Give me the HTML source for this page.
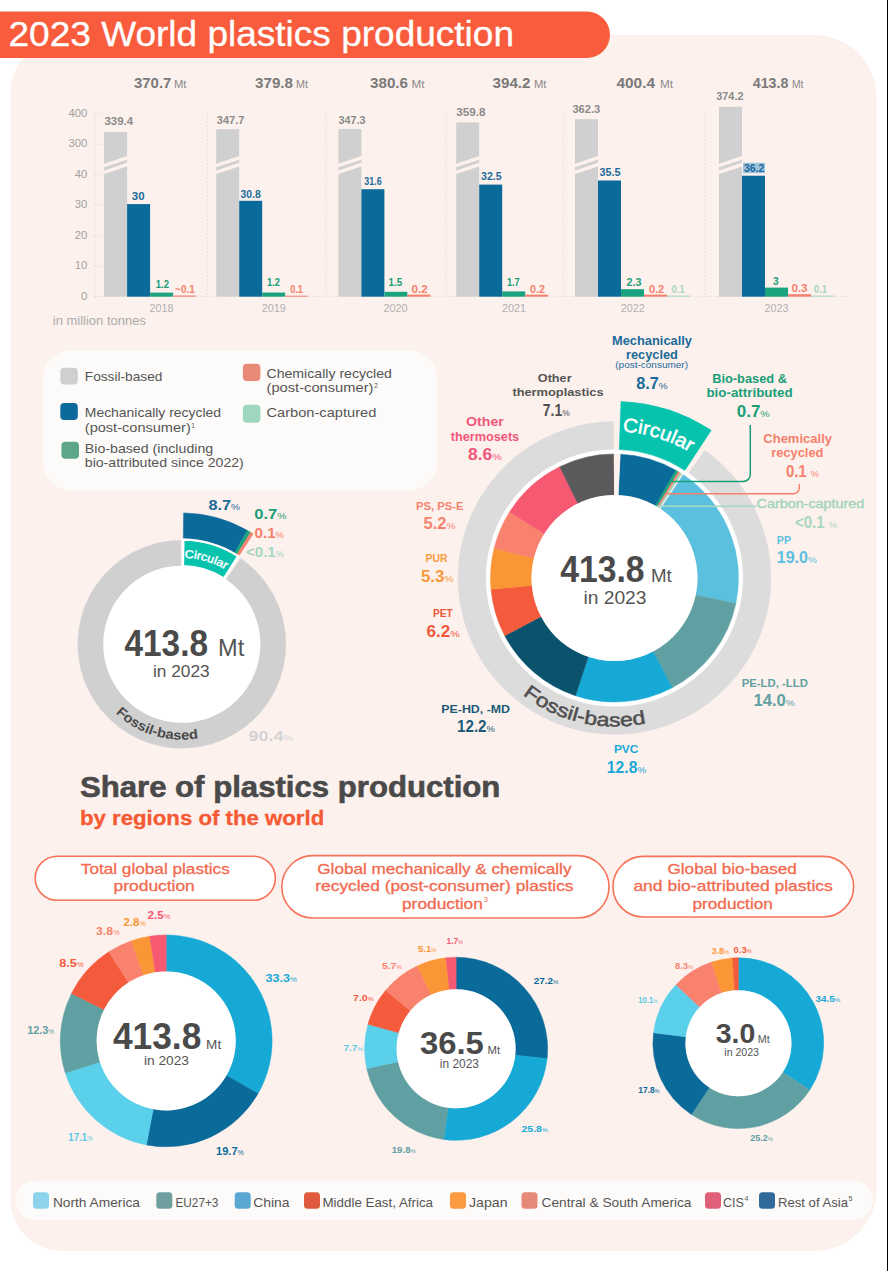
<!DOCTYPE html><html><head><meta charset="utf-8"><style>html,body{margin:0;padding:0;background:#fff;width:888px;height:1271px;overflow:hidden}svg{display:block}</style></head><body><svg width="888" height="1271" viewBox="0 0 888 1271" font-family='"Liberation Sans", sans-serif'>
<rect width="888" height="1271" fill="#ffffff"/>
<path d="M70.2,35 L814.6,35 A62,62 0 0 1 876.6,97 L876.6,1189 A62,62 0 0 1 814.6,1251 L62.2,1251 A52,52 0 0 1 10.2,1199 L10.2,95 A60,60 0 0 1 70.2,35 Z" fill="#FDF1ED"/>
<path d="M0,11.5 L586.7,11.5 A23.25,23.25 0 0 1 586.7,58 L0,58 Z" fill="#F85C3D"/>
<text x="8.5" y="46.3" font-size="34.5" fill="#ffffff" textLength="505.5" lengthAdjust="spacingAndGlyphs" stroke="#ffffff" stroke-width="0.3">2023 World plastics production</text>
<text x="87.3" y="116.5" font-size="11.3" fill="#A0A0A0" text-anchor="end">400</text>
<line x1="94.5" y1="113.5" x2="104" y2="113.5" stroke="#D8D8D8" stroke-width="0.8" stroke-dasharray="1.5,2"/>
<text x="87.3" y="147.4" font-size="11.3" fill="#A0A0A0" text-anchor="end">300</text>
<line x1="94.5" y1="144.4" x2="104" y2="144.4" stroke="#D8D8D8" stroke-width="0.8" stroke-dasharray="1.5,2"/>
<text x="87.3" y="177.8" font-size="11.3" fill="#A0A0A0" text-anchor="end">40</text>
<line x1="94.5" y1="174.8" x2="104" y2="174.8" stroke="#D8D8D8" stroke-width="0.8" stroke-dasharray="1.5,2"/>
<text x="87.3" y="208.0" font-size="11.3" fill="#A0A0A0" text-anchor="end">30</text>
<line x1="94.5" y1="205.0" x2="104" y2="205.0" stroke="#D8D8D8" stroke-width="0.8" stroke-dasharray="1.5,2"/>
<text x="87.3" y="238.8" font-size="11.3" fill="#A0A0A0" text-anchor="end">20</text>
<line x1="94.5" y1="235.8" x2="104" y2="235.8" stroke="#D8D8D8" stroke-width="0.8" stroke-dasharray="1.5,2"/>
<text x="87.3" y="269.0" font-size="11.3" fill="#A0A0A0" text-anchor="end">10</text>
<line x1="94.5" y1="266.0" x2="104" y2="266.0" stroke="#D8D8D8" stroke-width="0.8" stroke-dasharray="1.5,2"/>
<text x="87.3" y="299.6" font-size="11.3" fill="#A0A0A0" text-anchor="end">0</text>
<line x1="94.5" y1="296.6" x2="104" y2="296.6" stroke="#D8D8D8" stroke-width="0.8" stroke-dasharray="1.5,2"/>
<line x1="94.6" y1="111" x2="94.6" y2="296.7" stroke="#D8D8D8" stroke-width="0.8" stroke-dasharray="1.5,2"/>
<line x1="207.3" y1="111" x2="207.3" y2="296.7" stroke="#D8D8D8" stroke-width="0.8" stroke-dasharray="1.5,2"/>
<line x1="325.9" y1="111" x2="325.9" y2="296.7" stroke="#D8D8D8" stroke-width="0.8" stroke-dasharray="1.5,2"/>
<line x1="446" y1="111" x2="446" y2="296.7" stroke="#D8D8D8" stroke-width="0.8" stroke-dasharray="1.5,2"/>
<line x1="563.5" y1="111" x2="563.5" y2="296.7" stroke="#D8D8D8" stroke-width="0.8" stroke-dasharray="1.5,2"/>
<line x1="705" y1="111" x2="705" y2="296.7" stroke="#D8D8D8" stroke-width="0.8" stroke-dasharray="1.5,2"/>
<line x1="94.5" y1="296.4" x2="851" y2="296.4" stroke="#D8D8D8" stroke-width="0.8" stroke-dasharray="1.5,2"/>
<rect x="104.1" y="131.9" width="23" height="164.8" fill="#D0D0D0"/>
<path d="M103.6,163.9 L127.6,155.8 L127.6,159.4 L103.6,167.5 Z" fill="#FDF1ED"/>
<path d="M103.6,170.7 L127.6,162.6 L127.6,166.2 L103.6,174.3 Z" fill="#FDF1ED"/>
<rect x="127.1" y="204.1" width="23" height="92.6" fill="#0A6A9A"/>
<rect x="150.1" y="292.6" width="23" height="4.1" fill="#1AA37E"/>
<rect x="173.1" y="295.5" width="23" height="1.2" fill="#F5826E"/>
<rect x="216.2" y="129.2" width="23" height="167.5" fill="#D0D0D0"/>
<path d="M215.7,163.9 L239.7,155.8 L239.7,159.4 L215.7,167.5 Z" fill="#FDF1ED"/>
<path d="M215.7,170.7 L239.7,162.6 L239.7,166.2 L215.7,174.3 Z" fill="#FDF1ED"/>
<rect x="239.2" y="200.8" width="23" height="95.9" fill="#0A6A9A"/>
<rect x="262.2" y="292.5" width="23" height="4.2" fill="#1AA37E"/>
<rect x="285.2" y="295.7" width="23" height="1.0" fill="#F5826E"/>
<rect x="338.4" y="129.0" width="23" height="167.7" fill="#D0D0D0"/>
<path d="M337.9,163.9 L361.9,155.8 L361.9,159.4 L337.9,167.5 Z" fill="#FDF1ED"/>
<path d="M337.9,170.7 L361.9,162.6 L361.9,166.2 L337.9,174.3 Z" fill="#FDF1ED"/>
<rect x="361.4" y="189.2" width="23" height="107.5" fill="#0A6A9A"/>
<rect x="384.4" y="291.8" width="23" height="4.9" fill="#1AA37E"/>
<rect x="407.4" y="294.6" width="23" height="2.1" fill="#F5826E"/>
<rect x="456.2" y="122.4" width="23" height="174.3" fill="#D0D0D0"/>
<path d="M455.7,163.9 L479.7,155.8 L479.7,159.4 L455.7,167.5 Z" fill="#FDF1ED"/>
<path d="M455.7,170.7 L479.7,162.6 L479.7,166.2 L455.7,174.3 Z" fill="#FDF1ED"/>
<rect x="479.2" y="184.6" width="23" height="112.1" fill="#0A6A9A"/>
<rect x="502.2" y="291.4" width="23" height="5.3" fill="#1AA37E"/>
<rect x="525.2" y="294.6" width="23" height="2.1" fill="#F5826E"/>
<rect x="575.0" y="119.2" width="23" height="177.5" fill="#D0D0D0"/>
<path d="M574.5,163.9 L598.5,155.8 L598.5,159.4 L574.5,167.5 Z" fill="#FDF1ED"/>
<path d="M574.5,170.7 L598.5,162.6 L598.5,166.2 L574.5,174.3 Z" fill="#FDF1ED"/>
<rect x="598.0" y="180.5" width="23" height="116.2" fill="#0A6A9A"/>
<rect x="621.0" y="289.2" width="23" height="7.5" fill="#1AA37E"/>
<rect x="644.0" y="294.6" width="23" height="2.1" fill="#F5826E"/>
<rect x="667.0" y="295.6" width="23" height="1.1" fill="#A5D8C2"/>
<rect x="719.0" y="106.8" width="23" height="189.9" fill="#D0D0D0"/>
<path d="M718.5,163.9 L742.5,155.8 L742.5,159.4 L718.5,167.5 Z" fill="#FDF1ED"/>
<path d="M718.5,170.7 L742.5,162.6 L742.5,166.2 L718.5,174.3 Z" fill="#FDF1ED"/>
<rect x="742.0" y="175.7" width="23" height="121.0" fill="#0A6A9A"/>
<rect x="765.0" y="287.6" width="23" height="9.1" fill="#1AA37E"/>
<rect x="788.0" y="294.2" width="23" height="2.5" fill="#F5826E"/>
<rect x="811.0" y="295.6" width="23" height="1.1" fill="#A5D8C2"/>
<text x="134.0" y="88.0" font-size="15.5" fill="#7A7A7A" font-weight="bold" textLength="37.4" lengthAdjust="spacingAndGlyphs">370.7</text>
<text x="174.0" y="88.0" font-size="10.5" fill="#8A8A8A" textLength="12.4" lengthAdjust="spacingAndGlyphs">Mt</text>
<text x="255.0" y="88.0" font-size="15.5" fill="#7A7A7A" font-weight="bold" textLength="38.0" lengthAdjust="spacingAndGlyphs">379.8</text>
<text x="296.0" y="88.0" font-size="10.5" fill="#8A8A8A" textLength="12.0" lengthAdjust="spacingAndGlyphs">Mt</text>
<text x="370.0" y="88.0" font-size="15.5" fill="#7A7A7A" font-weight="bold" textLength="38.0" lengthAdjust="spacingAndGlyphs">380.6</text>
<text x="411.5" y="88.0" font-size="10.5" fill="#8A8A8A" textLength="13.0" lengthAdjust="spacingAndGlyphs">Mt</text>
<text x="492.5" y="88.0" font-size="15.5" fill="#7A7A7A" font-weight="bold" textLength="38.0" lengthAdjust="spacingAndGlyphs">394.2</text>
<text x="534.0" y="88.0" font-size="10.5" fill="#8A8A8A" textLength="12.5" lengthAdjust="spacingAndGlyphs">Mt</text>
<text x="616.5" y="88.0" font-size="15.5" fill="#7A7A7A" font-weight="bold" textLength="38.5" lengthAdjust="spacingAndGlyphs">400.4</text>
<text x="660.0" y="88.0" font-size="10.5" fill="#8A8A8A" textLength="13.0" lengthAdjust="spacingAndGlyphs">Mt</text>
<text x="752.7" y="88.0" font-size="15.5" fill="#7A7A7A" font-weight="bold" textLength="35.8" lengthAdjust="spacingAndGlyphs">413.8</text>
<text x="792.0" y="88.0" font-size="10.5" fill="#8A8A8A" textLength="11.5" lengthAdjust="spacingAndGlyphs">Mt</text>
<text x="104.5" y="124.8" font-size="10.5" fill="#8A8A8A" font-weight="bold" textLength="28.5" lengthAdjust="spacingAndGlyphs">339.4</text>
<text x="216.8" y="123.6" font-size="10.5" fill="#8A8A8A" font-weight="bold" textLength="27.5" lengthAdjust="spacingAndGlyphs">347.7</text>
<text x="338.4" y="123.8" font-size="10.5" fill="#8A8A8A" font-weight="bold" textLength="27.0" lengthAdjust="spacingAndGlyphs">347.3</text>
<text x="456.2" y="116.2" font-size="10.5" fill="#8A8A8A" font-weight="bold" textLength="29.2" lengthAdjust="spacingAndGlyphs">359.8</text>
<text x="572.4" y="113.0" font-size="10.5" fill="#8A8A8A" font-weight="bold" textLength="27.9" lengthAdjust="spacingAndGlyphs">362.3</text>
<text x="716.2" y="99.5" font-size="10.5" fill="#8A8A8A" font-weight="bold" textLength="27.3" lengthAdjust="spacingAndGlyphs">374.2</text>
<rect x="743" y="162.8" width="22" height="10.4" fill="#9CC3DD"/>
<text x="131.8" y="200.0" font-size="10.3" fill="#1A6A99" font-weight="bold" textLength="12.8" lengthAdjust="spacingAndGlyphs">30</text>
<text x="240.5" y="197.6" font-size="10.3" fill="#1A6A99" font-weight="bold" textLength="20.3" lengthAdjust="spacingAndGlyphs">30.8</text>
<text x="364.3" y="185.1" font-size="10.3" fill="#1A6A99" font-weight="bold" textLength="17.3" lengthAdjust="spacingAndGlyphs">31.6</text>
<text x="481.0" y="180.0" font-size="10.3" fill="#1A6A99" font-weight="bold" textLength="20.6" lengthAdjust="spacingAndGlyphs">32.5</text>
<text x="599.5" y="175.7" font-size="10.3" fill="#1A6A99" font-weight="bold" textLength="21.0" lengthAdjust="spacingAndGlyphs">35.5</text>
<text x="744.0" y="171.6" font-size="10.3" fill="#1A6A99" font-weight="bold" textLength="20.3" lengthAdjust="spacingAndGlyphs">36.2</text>
<text x="155.7" y="287.6" font-size="10.3" fill="#1A9E78" font-weight="bold" textLength="13.3" lengthAdjust="spacingAndGlyphs">1.2</text>
<text x="267.0" y="285.6" font-size="10.3" fill="#1A9E78" font-weight="bold" textLength="13.0" lengthAdjust="spacingAndGlyphs">1.2</text>
<text x="388.6" y="285.6" font-size="10.3" fill="#1A9E78" font-weight="bold" textLength="13.7" lengthAdjust="spacingAndGlyphs">1.5</text>
<text x="507.0" y="286.0" font-size="10.3" fill="#1A9E78" font-weight="bold" textLength="12.7" lengthAdjust="spacingAndGlyphs">1.7</text>
<text x="626.5" y="286.0" font-size="10.3" fill="#1A9E78" font-weight="bold" textLength="14.9" lengthAdjust="spacingAndGlyphs">2.3</text>
<text x="773.0" y="285.1" font-size="10.3" fill="#1A9E78" font-weight="bold" textLength="5.6" lengthAdjust="spacingAndGlyphs">3</text>
<text x="175.0" y="292.6" font-size="10.3" fill="#F5806C" font-weight="bold" textLength="19.9" lengthAdjust="spacingAndGlyphs">~0.1</text>
<text x="290.2" y="292.5" font-size="10.3" fill="#F5806C" font-weight="bold" textLength="12.8" lengthAdjust="spacingAndGlyphs">0.1</text>
<text x="411.5" y="292.9" font-size="10.3" fill="#F5806C" font-weight="bold" textLength="16.1" lengthAdjust="spacingAndGlyphs">0.2</text>
<text x="530.0" y="293.2" font-size="10.3" fill="#F5806C" font-weight="bold" textLength="14.9" lengthAdjust="spacingAndGlyphs">0.2</text>
<text x="648.9" y="293.2" font-size="10.3" fill="#F5806C" font-weight="bold" textLength="15.4" lengthAdjust="spacingAndGlyphs">0.2</text>
<text x="791.4" y="292.4" font-size="10.3" fill="#F5806C" font-weight="bold" textLength="16.2" lengthAdjust="spacingAndGlyphs">0.3</text>
<text x="671.6" y="293.0" font-size="10.3" fill="#A8D6C0" font-weight="bold" textLength="13.0" lengthAdjust="spacingAndGlyphs">0.1</text>
<text x="813.8" y="293.0" font-size="10.3" fill="#A8D6C0" font-weight="bold" textLength="13.2" lengthAdjust="spacingAndGlyphs">0.1</text>
<text x="161.6" y="311.8" font-size="10.6" fill="#B0B0B0" text-anchor="middle" textLength="24.0" lengthAdjust="spacingAndGlyphs">2018</text>
<text x="273.7" y="311.8" font-size="10.6" fill="#B0B0B0" text-anchor="middle" textLength="24.0" lengthAdjust="spacingAndGlyphs">2019</text>
<text x="395.5" y="311.8" font-size="10.6" fill="#B0B0B0" text-anchor="middle" textLength="24.0" lengthAdjust="spacingAndGlyphs">2020</text>
<text x="513.9" y="311.8" font-size="10.6" fill="#B0B0B0" text-anchor="middle" textLength="24.0" lengthAdjust="spacingAndGlyphs">2021</text>
<text x="632.8" y="311.8" font-size="10.6" fill="#B0B0B0" text-anchor="middle" textLength="24.0" lengthAdjust="spacingAndGlyphs">2022</text>
<text x="776.5" y="311.8" font-size="10.6" fill="#B0B0B0" text-anchor="middle" textLength="24.0" lengthAdjust="spacingAndGlyphs">2023</text>
<text x="52.8" y="324.5" font-size="12" fill="#ABABAB" textLength="93.1" lengthAdjust="spacingAndGlyphs">in million tonnes</text>
<rect x="43" y="350.4" width="394.3" height="140" rx="28" fill="#FDFBF9"/>
<rect x="60.3" y="367.7" width="17.5" height="16.7" rx="4" fill="#CFCFCF"/>
<text x="84.8" y="380.8" font-size="13" fill="#555555" textLength="77.6" lengthAdjust="spacingAndGlyphs">Fossil-based</text>
<rect x="60.3" y="403" width="17.5" height="17" rx="4" fill="#0B6A9B"/>
<text x="84.8" y="416.6" font-size="13" fill="#555555" textLength="136.2" lengthAdjust="spacingAndGlyphs">Mechanically recycled</text>
<text x="84.8" y="431.6" font-size="13" fill="#555555" textLength="106.0" lengthAdjust="spacingAndGlyphs">(post-consumer)</text>
<text x="191.3" y="428.0" font-size="6.5" fill="#555555">1</text>
<rect x="61.4" y="441.7" width="17.6" height="17" rx="4" fill="#5EA58A"/>
<text x="84.8" y="452.6" font-size="13" fill="#555555" textLength="128.4" lengthAdjust="spacingAndGlyphs">Bio-based (including</text>
<text x="84.8" y="467.1" font-size="13" fill="#555555" textLength="159.0" lengthAdjust="spacingAndGlyphs">bio-attributed since 2022)</text>
<rect x="242.9" y="363.7" width="17.5" height="17.3" rx="4" fill="#E98A78"/>
<text x="266.5" y="377.6" font-size="13" fill="#555555" textLength="125.4" lengthAdjust="spacingAndGlyphs">Chemically recycled</text>
<text x="266.5" y="391.9" font-size="13" fill="#555555" textLength="107.0" lengthAdjust="spacingAndGlyphs">(post-consumer)</text>
<text x="374.3" y="388.3" font-size="6.5" fill="#555555">2</text>
<rect x="242.9" y="404.8" width="17.5" height="18" rx="4" fill="#9FD6BF"/>
<text x="266.5" y="416.6" font-size="13" fill="#555555" textLength="109.8" lengthAdjust="spacingAndGlyphs">Carbon-captured</text>
<path d="M240.71,558.49 A104,104 0 1 1 180.53,540.21 L180.84,565.71 A78.5,78.5 0 1 0 226.26,579.51 Z" fill="#D0D0D0" stroke="#D0D0D0" stroke-width="0.5"/>
<path d="M183.63,512.91 A131.3,131.3 0 0 1 247.45,530.49 L234.65,552.66 A105.7,105.7 0 0 0 183.28,538.51 Z" fill="#0A6A9A" stroke="#0A6A9A" stroke-width="0.5"/>
<path d="M247.45,530.49 A131.3,131.3 0 0 1 250.60,532.37 L237.19,554.17 A105.7,105.7 0 0 0 234.65,552.66 Z" fill="#1AA37E" stroke="#1AA37E" stroke-width="0.5"/>
<path d="M250.60,532.37 A131.3,131.3 0 0 1 253.12,533.96 L239.21,555.45 A105.7,105.7 0 0 0 237.19,554.17 Z" fill="#F5826E" stroke="#F5826E" stroke-width="0.5"/>
<path d="M183.44,539.61 A104.6,104.6 0 0 1 238.16,556.08 L223.93,578.32 A78.2,78.2 0 0 0 183.03,566.01 Z" fill="#06C3AD" stroke="#ffffff" stroke-width="2.2"/>
<circle cx="181.8" cy="644.2" r="78.5" fill="#ffffff"/>
<text x="0" y="0" text-anchor="middle" font-size="11.5" fill="#ffffff" stroke="#ffffff" stroke-width="0.4" transform="translate(188.95,558.00) rotate(4.74) scale(1.085,1)">C</text>
<text x="0" y="0" text-anchor="middle" font-size="11.5" fill="#ffffff" stroke="#ffffff" stroke-width="0.4" transform="translate(194.81,558.68) rotate(8.65) scale(1.085,1)">i</text>
<text x="0" y="0" text-anchor="middle" font-size="11.5" fill="#ffffff" stroke="#ffffff" stroke-width="0.4" transform="translate(198.22,559.27) rotate(10.94) scale(1.085,1)">r</text>
<text x="0" y="0" text-anchor="middle" font-size="11.5" fill="#ffffff" stroke="#ffffff" stroke-width="0.4" transform="translate(203.29,560.41) rotate(14.39) scale(1.085,1)">c</text>
<text x="0" y="0" text-anchor="middle" font-size="11.5" fill="#ffffff" stroke="#ffffff" stroke-width="0.4" transform="translate(209.61,562.29) rotate(18.75) scale(1.085,1)">u</text>
<text x="0" y="0" text-anchor="middle" font-size="11.5" fill="#ffffff" stroke="#ffffff" stroke-width="0.4" transform="translate(214.16,563.98) rotate(21.97) scale(1.085,1)">l</text>
<text x="0" y="0" text-anchor="middle" font-size="11.5" fill="#ffffff" stroke="#ffffff" stroke-width="0.4" transform="translate(218.61,565.93) rotate(25.19) scale(1.085,1)">a</text>
<text x="0" y="0" text-anchor="middle" font-size="11.5" fill="#ffffff" stroke="#ffffff" stroke-width="0.4" transform="translate(223.56,568.45) rotate(28.86) scale(1.085,1)">r</text>
<text x="0" y="0" text-anchor="middle" font-size="13.5" fill="#4A4A4A" font-weight="bold" transform="translate(118.77,715.95) rotate(41.30) scale(1.091,1)">F</text>
<text x="0" y="0" text-anchor="middle" font-size="13.5" fill="#4A4A4A" font-weight="bold" transform="translate(125.80,721.55) rotate(35.90) scale(1.091,1)">o</text>
<text x="0" y="0" text-anchor="middle" font-size="13.5" fill="#4A4A4A" font-weight="bold" transform="translate(132.97,726.27) rotate(30.75) scale(1.091,1)">s</text>
<text x="0" y="0" text-anchor="middle" font-size="13.5" fill="#4A4A4A" font-weight="bold" transform="translate(140.18,730.15) rotate(25.84) scale(1.091,1)">s</text>
<text x="0" y="0" text-anchor="middle" font-size="13.5" fill="#4A4A4A" font-weight="bold" transform="translate(145.79,732.65) rotate(22.15) scale(1.091,1)">i</text>
<text x="0" y="0" text-anchor="middle" font-size="13.5" fill="#4A4A4A" font-weight="bold" transform="translate(149.61,734.11) rotate(19.70) scale(1.091,1)">l</text>
<text x="0" y="0" text-anchor="middle" font-size="13.5" fill="#4A4A4A" font-weight="bold" transform="translate(153.87,735.53) rotate(17.00) scale(1.091,1)">-</text>
<text x="0" y="0" text-anchor="middle" font-size="13.5" fill="#4A4A4A" font-weight="bold" transform="translate(160.59,737.31) rotate(12.83) scale(1.091,1)">b</text>
<text x="0" y="0" text-anchor="middle" font-size="13.5" fill="#4A4A4A" font-weight="bold" transform="translate(169.04,738.84) rotate(7.68) scale(1.091,1)">a</text>
<text x="0" y="0" text-anchor="middle" font-size="13.5" fill="#4A4A4A" font-weight="bold" transform="translate(177.19,739.59) rotate(2.77) scale(1.091,1)">s</text>
<text x="0" y="0" text-anchor="middle" font-size="13.5" fill="#4A4A4A" font-weight="bold" transform="translate(185.38,739.63) rotate(-2.15) scale(1.091,1)">e</text>
<text x="0" y="0" text-anchor="middle" font-size="13.5" fill="#4A4A4A" font-weight="bold" transform="translate(193.93,738.93) rotate(-7.30) scale(1.091,1)">d</text>
<text x="124.4" y="656.0" font-size="36" fill="#4A4A4A" font-weight="bold" textLength="83.6" lengthAdjust="spacingAndGlyphs">413.8</text>
<text x="218.1" y="656.0" font-size="23.5" fill="#555555" textLength="26.2" lengthAdjust="spacingAndGlyphs">Mt</text>
<text x="153.0" y="676.7" font-size="17" fill="#555555" textLength="56.7" lengthAdjust="spacingAndGlyphs">in 2023</text>
<text x="208.4" y="509.8" font-size="15" font-weight="bold" fill="#1A6A99" textLength="31.6" lengthAdjust="spacingAndGlyphs">8.7<tspan font-size="9.3" font-weight="normal">%</tspan></text>
<text x="254.2" y="519.3" font-size="15" font-weight="bold" fill="#1A9E78" textLength="32.2" lengthAdjust="spacingAndGlyphs">0.7<tspan font-size="9.3" font-weight="normal">%</tspan></text>
<text x="254.6" y="538.0" font-size="15" font-weight="bold" fill="#F5806C" textLength="29.3" lengthAdjust="spacingAndGlyphs">0.1<tspan font-size="9.3" font-weight="normal">%</tspan></text>
<text x="246.1" y="557.3" font-size="15" font-weight="bold" fill="#A8D6C0" textLength="37.8" lengthAdjust="spacingAndGlyphs">&lt;0.1<tspan font-size="9.3" font-weight="normal">%</tspan></text>
<text x="248.6" y="741.4" font-size="15" font-weight="bold" fill="#D3D3D3" textLength="44.6" lengthAdjust="spacingAndGlyphs">90.4<tspan font-size="9.3" font-weight="normal">%</tspan></text>
<path d="M704.88,450.36 A156.4,156.4 0 1 1 613.41,421.60 L613.61,450.00 A128,128 0 1 0 688.47,473.53 Z" fill="#DCDCDC" stroke="#DCDCDC" stroke-width="0.5"/>
<path d="M614.50,449.70 A128.3,128.3 0 1 1 614.48,449.70 L614.49,496.00 A82,82 0 1 0 614.50,496.00 Z" fill="#ffffff" stroke="#ffffff" stroke-width="0.5"/>
<path d="M620.56,454.15 A124,124 0 0 1 675.75,470.18 L655.50,505.83 A83,83 0 0 0 618.55,495.10 Z" fill="#0A6A9A" stroke="#0A6A9A" stroke-width="0.5"/>
<path d="M675.75,470.18 A124,124 0 0 1 678.36,471.71 L657.25,506.86 A83,83 0 0 0 655.50,505.83 Z" fill="#1AA37E" stroke="#1AA37E" stroke-width="0.5"/>
<path d="M678.36,471.71 A124,124 0 0 1 680.21,472.84 L658.48,507.61 A83,83 0 0 0 657.25,506.86 Z" fill="#F5826E" stroke="#F5826E" stroke-width="0.5"/>
<path d="M680.21,472.84 A124,124 0 0 1 682.04,474.00 L659.71,508.39 A83,83 0 0 0 658.48,507.61 Z" fill="#A5D8C2" stroke="#A5D8C2" stroke-width="0.5"/>
<path d="M682.94,474.60 A124,124 0 0 1 735.84,603.57 L695.72,595.11 A83,83 0 0 0 660.31,508.79 Z" fill="#5BC0DE" stroke="#5BC0DE" stroke-width="0.5"/>
<path d="M735.84,603.57 A124,124 0 0 1 672.14,687.79 L653.08,651.49 A83,83 0 0 0 695.72,595.11 Z" fill="#61A0A2" stroke="#61A0A2" stroke-width="0.5"/>
<path d="M672.14,687.79 A124,124 0 0 1 575.36,695.66 L588.30,656.76 A83,83 0 0 0 653.08,651.49 Z" fill="#16A9D6" stroke="#16A9D6" stroke-width="0.5"/>
<path d="M575.36,695.66 A124,124 0 0 1 504.71,635.64 L541.01,616.58 A83,83 0 0 0 588.30,656.76 Z" fill="#0B526C" stroke="#0B526C" stroke-width="0.5"/>
<path d="M504.71,635.64 A124,124 0 0 1 491.01,589.24 L531.84,585.52 A83,83 0 0 0 541.01,616.58 Z" fill="#F45A3C" stroke="#F45A3C" stroke-width="0.5"/>
<path d="M491.01,589.24 A124,124 0 0 1 494.13,548.21 L533.93,558.06 A83,83 0 0 0 531.84,585.52 Z" fill="#FB9637" stroke="#FB9637" stroke-width="0.5"/>
<path d="M494.13,548.21 A124,124 0 0 1 509.57,511.92 L544.27,533.77 A83,83 0 0 0 533.93,558.06 Z" fill="#F9826E" stroke="#F9826E" stroke-width="0.5"/>
<path d="M509.57,511.92 A124,124 0 0 1 559.75,466.74 L577.86,503.53 A83,83 0 0 0 544.27,533.77 Z" fill="#F55A72" stroke="#F55A72" stroke-width="0.5"/>
<path d="M559.75,466.74 A124,124 0 0 1 613.85,454.00 L614.07,495.00 A83,83 0 0 0 577.86,503.53 Z" fill="#5A5A5A" stroke="#5A5A5A" stroke-width="0.5"/>
<path d="M613.85,453.80 A124.2,124.2 0 0 1 620.35,453.94 L618.36,496.09 A82,82 0 0 0 614.07,496.00 Z" fill="#FDF1ED" />
<path d="M682.14,473.84 A124.2,124.2 0 0 1 683.23,474.55 L659.88,509.70 A82,82 0 0 0 659.16,509.23 Z" fill="#FDF1ED" />
<path d="M614.3,449.6 L614.3,421 L619.8,421 L619.8,449.6 Z" fill="#FDF1ED"/>
<path d="M620.97,401.52 A176.6,176.6 0 0 1 711.20,430.23 L684.86,470.48 A128.5,128.5 0 0 0 619.21,449.59 Z" fill="#06C3AD" stroke="#06C3AD" stroke-width="0.5"/>
<circle cx="614.5" cy="578" r="83" fill="#ffffff"/>
<text x="0" y="0" text-anchor="middle" font-size="19.5" fill="#ffffff" stroke="#ffffff" stroke-width="0.5" transform="translate(629.88,432.31) rotate(6.03) scale(1.057,1)">C</text>
<text x="0" y="0" text-anchor="middle" font-size="19.5" fill="#ffffff" stroke="#ffffff" stroke-width="0.5" transform="translate(639.52,433.65) rotate(9.83) scale(1.057,1)">i</text>
<text x="0" y="0" text-anchor="middle" font-size="19.5" fill="#ffffff" stroke="#ffffff" stroke-width="0.5" transform="translate(645.13,434.74) rotate(12.07) scale(1.057,1)">r</text>
<text x="0" y="0" text-anchor="middle" font-size="19.5" fill="#ffffff" stroke="#ffffff" stroke-width="0.5" transform="translate(653.47,436.78) rotate(15.43) scale(1.057,1)">c</text>
<text x="0" y="0" text-anchor="middle" font-size="19.5" fill="#ffffff" stroke="#ffffff" stroke-width="0.5" transform="translate(663.85,440.06) rotate(19.68) scale(1.057,1)">u</text>
<text x="0" y="0" text-anchor="middle" font-size="19.5" fill="#ffffff" stroke="#ffffff" stroke-width="0.5" transform="translate(671.32,442.97) rotate(22.82) scale(1.057,1)">l</text>
<text x="0" y="0" text-anchor="middle" font-size="19.5" fill="#ffffff" stroke="#ffffff" stroke-width="0.5" transform="translate(678.62,446.28) rotate(25.96) scale(1.057,1)">a</text>
<text x="0" y="0" text-anchor="middle" font-size="19.5" fill="#ffffff" stroke="#ffffff" stroke-width="0.5" transform="translate(686.73,450.55) rotate(29.54) scale(1.057,1)">r</text>
<text x="0" y="0" text-anchor="middle" font-size="19" fill="#4F4F4F" stroke="#4F4F4F" stroke-width="0.5" transform="translate(528.16,698.82) rotate(35.55) scale(1.216,1)">F</text>
<text x="0" y="0" text-anchor="middle" font-size="19" fill="#4F4F4F" stroke="#4F4F4F" stroke-width="0.5" transform="translate(539.47,706.15) rotate(30.35) scale(1.216,1)">o</text>
<text x="0" y="0" text-anchor="middle" font-size="19" fill="#4F4F4F" stroke="#4F4F4F" stroke-width="0.5" transform="translate(550.25,711.88) rotate(25.64) scale(1.216,1)">s</text>
<text x="0" y="0" text-anchor="middle" font-size="19" fill="#4F4F4F" stroke="#4F4F4F" stroke-width="0.5" transform="translate(560.85,716.47) rotate(21.18) scale(1.216,1)">s</text>
<text x="0" y="0" text-anchor="middle" font-size="19" fill="#4F4F4F" stroke="#4F4F4F" stroke-width="0.5" transform="translate(568.71,719.26) rotate(17.96) scale(1.216,1)">i</text>
<text x="0" y="0" text-anchor="middle" font-size="19" fill="#4F4F4F" stroke="#4F4F4F" stroke-width="0.5" transform="translate(573.62,720.76) rotate(15.98) scale(1.216,1)">l</text>
<text x="0" y="0" text-anchor="middle" font-size="19" fill="#4F4F4F" stroke="#4F4F4F" stroke-width="0.5" transform="translate(579.82,722.39) rotate(13.50) scale(1.216,1)">-</text>
<text x="0" y="0" text-anchor="middle" font-size="19" fill="#4F4F4F" stroke="#4F4F4F" stroke-width="0.5" transform="translate(589.89,724.45) rotate(9.54) scale(1.216,1)">b</text>
<text x="0" y="0" text-anchor="middle" font-size="19" fill="#4F4F4F" stroke="#4F4F4F" stroke-width="0.5" transform="translate(602.64,726.03) rotate(4.58) scale(1.216,1)">a</text>
<text x="0" y="0" text-anchor="middle" font-size="19" fill="#4F4F4F" stroke="#4F4F4F" stroke-width="0.5" transform="translate(614.83,726.50) rotate(-0.13) scale(1.216,1)">s</text>
<text x="0" y="0" text-anchor="middle" font-size="19" fill="#4F4F4F" stroke="#4F4F4F" stroke-width="0.5" transform="translate(627.01,725.97) rotate(-4.83) scale(1.216,1)">e</text>
<text x="0" y="0" text-anchor="middle" font-size="19" fill="#4F4F4F" stroke="#4F4F4F" stroke-width="0.5" transform="translate(639.76,724.34) rotate(-9.79) scale(1.216,1)">d</text>
<text x="560.2" y="581.8" font-size="36" fill="#4A4A4A" font-weight="bold" textLength="84.4" lengthAdjust="spacingAndGlyphs">413.8</text>
<text x="650.9" y="581.8" font-size="18.5" fill="#555555" textLength="20.8" lengthAdjust="spacingAndGlyphs">Mt</text>
<text x="583.4" y="603.9" font-size="18" fill="#555555" textLength="63.1" lengthAdjust="spacingAndGlyphs">in 2023</text>
<path d="M750.3,424.9 L750.3,474.4 A7,7 0 0 1 743.3,481.4 L672,481.4" fill="none" stroke="#1A9E78" stroke-width="1.5"/>
<path d="M799.3,484 L799.3,487.8 A6,6 0 0 1 793.3,493.8 L665,493.8" fill="none" stroke="#F5806C" stroke-width="1.5"/>
<path d="M657,506.2 L756.5,506.2" fill="none" stroke="#A8D6C0" stroke-width="1.5"/>
<text x="612.0" y="345.0" font-size="13" fill="#1A6A99" font-weight="bold" textLength="80.0" lengthAdjust="spacingAndGlyphs">Mechanically</text>
<text x="625.9" y="359.4" font-size="13" fill="#1A6A99" font-weight="bold" textLength="52.0" lengthAdjust="spacingAndGlyphs">recycled</text>
<text x="615.3" y="368.3" font-size="9.5" fill="#1A6A99" textLength="72.7" lengthAdjust="spacingAndGlyphs">(post-consumer)</text>
<text x="636.3" y="389.3" font-size="16" font-weight="bold" fill="#1A6A99" textLength="31.5" lengthAdjust="spacingAndGlyphs">8.7<tspan font-size="9.9" font-weight="normal">%</tspan></text>
<text x="537.8" y="382.1" font-size="11.5" fill="#555555" font-weight="bold" textLength="33.8" lengthAdjust="spacingAndGlyphs">Other</text>
<text x="512.4" y="396.0" font-size="11.5" fill="#555555" font-weight="bold" textLength="91.2" lengthAdjust="spacingAndGlyphs">thermoplastics</text>
<text x="542.8" y="415.6" font-size="16" font-weight="bold" fill="#4F4F4F" textLength="27.0" lengthAdjust="spacingAndGlyphs">7.1<tspan font-size="9.9" font-weight="normal">%</tspan></text>
<text x="712.2" y="383.0" font-size="12" fill="#1A9E78" font-weight="bold" textLength="74.8" lengthAdjust="spacingAndGlyphs">Bio-based &amp;</text>
<text x="706.4" y="397.0" font-size="12" fill="#1A9E78" font-weight="bold" textLength="86.2" lengthAdjust="spacingAndGlyphs">bio-attributed</text>
<text x="736.8" y="417.0" font-size="16" font-weight="bold" fill="#1A9E78" textLength="32.8" lengthAdjust="spacingAndGlyphs">0.7<tspan font-size="9.9" font-weight="normal">%</tspan></text>
<text x="763.3" y="443.0" font-size="12" fill="#F5806C" font-weight="bold" textLength="68.7" lengthAdjust="spacingAndGlyphs">Chemically</text>
<text x="771.2" y="457.0" font-size="12" fill="#F5806C" font-weight="bold" textLength="52.3" lengthAdjust="spacingAndGlyphs">recycled</text>
<text x="785.9" y="477.0" font-size="16" font-weight="bold" fill="#F5806C" textLength="33.1" lengthAdjust="spacingAndGlyphs">0.1 <tspan font-size="9.9" font-weight="normal">%</tspan></text>
<text x="756.6" y="508.0" font-size="12.5" fill="#9FD3BB" textLength="107.6" lengthAdjust="spacingAndGlyphs" stroke="#9FD3BB" stroke-width="0.35">Carbon-captured</text>
<text x="794.9" y="528.0" font-size="16" font-weight="bold" fill="#A8D6C0" textLength="42.1" lengthAdjust="spacingAndGlyphs">&lt;0.1 <tspan font-size="9.9" font-weight="normal">%</tspan></text>
<text x="776.8" y="543.5" font-size="11" fill="#5BBFE0" font-weight="bold" textLength="14.2" lengthAdjust="spacingAndGlyphs">PP</text>
<text x="776.8" y="563.0" font-size="16" font-weight="bold" fill="#5BBFE0" textLength="39.9" lengthAdjust="spacingAndGlyphs">19.0<tspan font-size="9.9" font-weight="normal">%</tspan></text>
<text x="466.0" y="426.0" font-size="12" fill="#F0587A" font-weight="bold" textLength="37.8" lengthAdjust="spacingAndGlyphs">Other</text>
<text x="450.7" y="441.0" font-size="12" fill="#F0587A" font-weight="bold" textLength="68.5" lengthAdjust="spacingAndGlyphs">thermosets</text>
<text x="468.0" y="460.0" font-size="16" font-weight="bold" fill="#F0587A" textLength="33.7" lengthAdjust="spacingAndGlyphs">8.6<tspan font-size="9.9" font-weight="normal">%</tspan></text>
<text x="416.0" y="510.0" font-size="11" fill="#F5826E" font-weight="bold" textLength="47.4" lengthAdjust="spacingAndGlyphs">PS, PS-E</text>
<text x="423.5" y="529.0" font-size="16" font-weight="bold" fill="#F5826E" textLength="32.1" lengthAdjust="spacingAndGlyphs">5.2<tspan font-size="9.9" font-weight="normal">%</tspan></text>
<text x="425.6" y="562.0" font-size="11" fill="#F99A3A" font-weight="bold" textLength="21.9" lengthAdjust="spacingAndGlyphs">PUR</text>
<text x="420.9" y="582.0" font-size="16" font-weight="bold" fill="#F99A3A" textLength="32.7" lengthAdjust="spacingAndGlyphs">5.3<tspan font-size="9.9" font-weight="normal">%</tspan></text>
<text x="433.0" y="616.5" font-size="11" fill="#F0583A" font-weight="bold" textLength="19.8" lengthAdjust="spacingAndGlyphs">PET</text>
<text x="426.6" y="637.0" font-size="16" font-weight="bold" fill="#F0583A" textLength="33.1" lengthAdjust="spacingAndGlyphs">6.2<tspan font-size="9.9" font-weight="normal">%</tspan></text>
<text x="441.3" y="712.5" font-size="11" fill="#1A5A78" font-weight="bold" textLength="68.7" lengthAdjust="spacingAndGlyphs">PE-HD, -MD</text>
<text x="457.0" y="732.0" font-size="16" font-weight="bold" fill="#1A5A78" textLength="37.9" lengthAdjust="spacingAndGlyphs">12.2<tspan font-size="9.9" font-weight="normal">%</tspan></text>
<text x="613.9" y="753.0" font-size="11" fill="#1AA8D8" font-weight="bold" textLength="24.6" lengthAdjust="spacingAndGlyphs">PVC</text>
<text x="606.8" y="772.5" font-size="16" font-weight="bold" fill="#1AA8D8" textLength="39.2" lengthAdjust="spacingAndGlyphs">12.8<tspan font-size="9.9" font-weight="normal">%</tspan></text>
<text x="741.7" y="687.0" font-size="11" fill="#61A0A2" font-weight="bold" textLength="66.2" lengthAdjust="spacingAndGlyphs">PE-LD, -LLD</text>
<text x="753.5" y="706.0" font-size="16" font-weight="bold" fill="#61A0A2" textLength="41.5" lengthAdjust="spacingAndGlyphs">14.0<tspan font-size="9.9" font-weight="normal">%</tspan></text>
<text x="79.9" y="797.2" font-size="29" fill="#4A4A4A" font-weight="bold" textLength="420.5" lengthAdjust="spacingAndGlyphs" stroke="#4A4A4A" stroke-width="0.6">Share of plastics production</text>
<text x="80.0" y="824.5" font-size="19.5" fill="#F55A35" font-weight="bold" textLength="244.2" lengthAdjust="spacingAndGlyphs" stroke="#F55A35" stroke-width="0.3">by regions of the world</text>
<rect x="35.2" y="856.2" width="240.2" height="44.1" rx="22.0" fill="#FFFFFF" stroke="#F6735A" stroke-width="1.6"/>
<text x="80.8" y="873.8" font-size="14.5" fill="#F26A50" textLength="149.0" lengthAdjust="spacingAndGlyphs" stroke="#F26A50" stroke-width="0.3">Total global plastics</text>
<text x="113.6" y="891.0" font-size="14.5" fill="#F26A50" textLength="81.2" lengthAdjust="spacingAndGlyphs" stroke="#F26A50" stroke-width="0.3">production</text>
<rect x="281.8" y="855.6" width="327.2" height="62.4" rx="31.2" fill="#FFFFFF" stroke="#F6735A" stroke-width="1.6"/>
<text x="317.3" y="873.8" font-size="14.5" fill="#F26A50" textLength="254.2" lengthAdjust="spacingAndGlyphs" stroke="#F26A50" stroke-width="0.3">Global mechanically &amp; chemically</text>
<text x="315.3" y="891.0" font-size="14.5" fill="#F26A50" textLength="258.2" lengthAdjust="spacingAndGlyphs" stroke="#F26A50" stroke-width="0.3">recycled (post-consumer) plastics</text>
<text x="402.0" y="909.0" font-size="14.5" fill="#F26A50" textLength="80.8" lengthAdjust="spacingAndGlyphs" stroke="#F26A50" stroke-width="0.3">production</text>
<text x="483.5" y="902.0" font-size="8" fill="#F26A50">3</text>
<rect x="613" y="856.4" width="240.6" height="60.6" rx="30.3" fill="#FFFFFF" stroke="#F6735A" stroke-width="1.6"/>
<text x="667.5" y="873.8" font-size="14.5" fill="#F26A50" textLength="129.4" lengthAdjust="spacingAndGlyphs" stroke="#F26A50" stroke-width="0.3">Global bio-based</text>
<text x="633.4" y="891.0" font-size="14.5" fill="#F26A50" textLength="199.5" lengthAdjust="spacingAndGlyphs" stroke="#F26A50" stroke-width="0.3">and bio-attributed plastics</text>
<text x="692.4" y="909.0" font-size="14.5" fill="#F26A50" textLength="80.5" lengthAdjust="spacingAndGlyphs" stroke="#F26A50" stroke-width="0.3">production</text>
<path d="M166.20,935.00 A105.9,105.9 0 0 1 258.02,1093.66 L226.46,1075.52 A69.5,69.5 0 0 0 166.20,971.40 Z" fill="#16A9D6" stroke="#16A9D6" stroke-width="0.5"/>
<path d="M258.02,1093.66 A105.9,105.9 0 0 1 146.36,1144.92 L153.18,1109.17 A69.5,69.5 0 0 0 226.46,1075.52 Z" fill="#0A6A9A" stroke="#0A6A9A" stroke-width="0.5"/>
<path d="M146.36,1144.92 A105.9,105.9 0 0 1 65.28,1072.99 L99.97,1061.96 A69.5,69.5 0 0 0 153.18,1109.17 Z" fill="#5BD0EA" stroke="#5BD0EA" stroke-width="0.5"/>
<path d="M65.28,1072.99 A105.9,105.9 0 0 1 71.54,993.42 L104.08,1009.74 A69.5,69.5 0 0 0 99.97,1061.96 Z" fill="#61A0A2" stroke="#61A0A2" stroke-width="0.5"/>
<path d="M71.54,993.42 A105.9,105.9 0 0 1 108.90,951.84 L128.59,982.45 A69.5,69.5 0 0 0 104.08,1009.74 Z" fill="#F45A3C" stroke="#F45A3C" stroke-width="0.5"/>
<path d="M108.90,951.84 A105.9,105.9 0 0 1 131.58,940.82 L143.48,975.22 A69.5,69.5 0 0 0 128.59,982.45 Z" fill="#F9826E" stroke="#F9826E" stroke-width="0.5"/>
<path d="M131.58,940.82 A105.9,105.9 0 0 1 149.63,936.30 L155.33,972.26 A69.5,69.5 0 0 0 143.48,975.22 Z" fill="#FB9637" stroke="#FB9637" stroke-width="0.5"/>
<path d="M149.63,936.30 A105.9,105.9 0 0 1 166.20,935.00 L166.20,971.40 A69.5,69.5 0 0 0 155.33,972.26 Z" fill="#F55A72" stroke="#F55A72" stroke-width="0.5"/>
<circle cx="166.2" cy="1040.9" r="69.5" fill="#ffffff"/>
<path d="M456.10,957.30 A91.5,91.5 0 0 1 547.06,1058.68 L515.25,1055.23 A59.5,59.5 0 0 0 456.10,989.30 Z" fill="#0A6A9A" stroke="#0A6A9A" stroke-width="0.5"/>
<path d="M547.06,1058.68 A91.5,91.5 0 0 1 443.68,1139.45 L448.02,1107.75 A59.5,59.5 0 0 0 515.25,1055.23 Z" fill="#16A9D6" stroke="#16A9D6" stroke-width="0.5"/>
<path d="M443.68,1139.45 A91.5,91.5 0 0 1 366.77,1068.60 L398.01,1061.68 A59.5,59.5 0 0 0 448.02,1107.75 Z" fill="#61A0A2" stroke="#61A0A2" stroke-width="0.5"/>
<path d="M366.77,1068.60 A91.5,91.5 0 0 1 367.97,1024.19 L398.79,1032.80 A59.5,59.5 0 0 0 398.01,1061.68 Z" fill="#5BD0EA" stroke="#5BD0EA" stroke-width="0.5"/>
<path d="M367.97,1024.19 A91.5,91.5 0 0 1 385.70,990.35 L410.32,1010.79 A59.5,59.5 0 0 0 398.79,1032.80 Z" fill="#F45A3C" stroke="#F45A3C" stroke-width="0.5"/>
<path d="M385.70,990.35 A91.5,91.5 0 0 1 417.58,965.81 L431.05,994.83 A59.5,59.5 0 0 0 410.32,1010.79 Z" fill="#F9826E" stroke="#F9826E" stroke-width="0.5"/>
<path d="M417.58,965.81 A91.5,91.5 0 0 1 445.90,957.87 L449.47,989.67 A59.5,59.5 0 0 0 431.05,994.83 Z" fill="#FB9637" stroke="#FB9637" stroke-width="0.5"/>
<path d="M445.90,957.87 A91.5,91.5 0 0 1 456.10,957.30 L456.10,989.30 A59.5,59.5 0 0 0 449.47,989.67 Z" fill="#F55A72" stroke="#F55A72" stroke-width="0.5"/>
<circle cx="456.1" cy="1048.8" r="59.5" fill="#ffffff"/>
<path d="M738.30,957.80 A85.4,85.4 0 0 1 809.76,1089.96 L782.65,1072.22 A53,53 0 0 0 738.30,990.20 Z" fill="#16A9D6" stroke="#16A9D6" stroke-width="0.5"/>
<path d="M809.76,1089.96 A85.4,85.4 0 0 1 691.41,1114.58 L709.20,1087.50 A53,53 0 0 0 782.65,1072.22 Z" fill="#61A0A2" stroke="#61A0A2" stroke-width="0.5"/>
<path d="M691.41,1114.58 A85.4,85.4 0 0 1 653.54,1032.79 L685.70,1036.74 A53,53 0 0 0 709.20,1087.50 Z" fill="#0A6A9A" stroke="#0A6A9A" stroke-width="0.5"/>
<path d="M653.54,1032.79 A85.4,85.4 0 0 1 675.94,984.85 L699.60,1006.99 A53,53 0 0 0 685.70,1036.74 Z" fill="#5BD0EA" stroke="#5BD0EA" stroke-width="0.5"/>
<path d="M675.94,984.85 A85.4,85.4 0 0 1 711.63,962.07 L721.75,992.85 A53,53 0 0 0 699.60,1006.99 Z" fill="#F9826E" stroke="#F9826E" stroke-width="0.5"/>
<path d="M711.63,962.07 A85.4,85.4 0 0 1 732.49,958.00 L734.70,990.32 A53,53 0 0 0 721.75,992.85 Z" fill="#FB9637" stroke="#FB9637" stroke-width="0.5"/>
<path d="M732.49,958.00 A85.4,85.4 0 0 1 738.30,957.80 L738.30,990.20 A53,53 0 0 0 734.70,990.32 Z" fill="#F45A3C" stroke="#F45A3C" stroke-width="0.5"/>
<circle cx="738.5" cy="1043.2" r="53" fill="#ffffff"/>
<text x="112.9" y="1049.2" font-size="37" fill="#4A4A4A" font-weight="bold" textLength="88.4" lengthAdjust="spacingAndGlyphs">413.8</text>
<text x="206.1" y="1049.2" font-size="13" fill="#555555" textLength="15.1" lengthAdjust="spacingAndGlyphs">Mt</text>
<text x="143.9" y="1064.9" font-size="13.6" fill="#555555" textLength="45.1" lengthAdjust="spacingAndGlyphs">in 2023</text>
<text x="419.9" y="1053.8" font-size="32" fill="#4A4A4A" font-weight="bold" textLength="63.9" lengthAdjust="spacingAndGlyphs">36.5</text>
<text x="487.5" y="1053.8" font-size="11" fill="#555555" textLength="12.6" lengthAdjust="spacingAndGlyphs">Mt</text>
<text x="439.8" y="1067.5" font-size="12" fill="#555555" textLength="39.1" lengthAdjust="spacingAndGlyphs">in 2023</text>
<text x="715.7" y="1043.4" font-size="28.5" fill="#4A4A4A" font-weight="bold" textLength="39.5" lengthAdjust="spacingAndGlyphs">3.0</text>
<text x="757.8" y="1043.4" font-size="10" fill="#555555" textLength="11.9" lengthAdjust="spacingAndGlyphs">Mt</text>
<text x="724.3" y="1056.1" font-size="11" fill="#555555" textLength="34.7" lengthAdjust="spacingAndGlyphs">in 2023</text>
<text x="265.6" y="981.5" font-size="10.5" font-weight="bold" fill="#16A9D6" textLength="31.4" lengthAdjust="spacingAndGlyphs">33.3<tspan font-size="6.5" font-weight="normal">%</tspan></text>
<text x="216.0" y="1154.6" font-size="10.5" font-weight="bold" fill="#0A6A9A" textLength="27.7" lengthAdjust="spacingAndGlyphs">19.7<tspan font-size="6.5" font-weight="normal">%</tspan></text>
<text x="68.3" y="1140.6" font-size="10.5" font-weight="bold" fill="#5BC8E5" textLength="24.2" lengthAdjust="spacingAndGlyphs">17.1<tspan font-size="6.5" font-weight="normal">%</tspan></text>
<text x="27.2" y="1033.5" font-size="10.5" font-weight="bold" fill="#61A0A2" textLength="27.1" lengthAdjust="spacingAndGlyphs">12.3<tspan font-size="6.5" font-weight="normal">%</tspan></text>
<text x="59.2" y="966.5" font-size="10.5" font-weight="bold" fill="#F45A3C" textLength="24.5" lengthAdjust="spacingAndGlyphs">8.5<tspan font-size="6.5" font-weight="normal">%</tspan></text>
<text x="96.0" y="934.8" font-size="10.5" font-weight="bold" fill="#F9826E" textLength="23.6" lengthAdjust="spacingAndGlyphs">3.8<tspan font-size="6.5" font-weight="normal">%</tspan></text>
<text x="123.5" y="925.7" font-size="10.5" font-weight="bold" fill="#FB9637" textLength="22.2" lengthAdjust="spacingAndGlyphs">2.8<tspan font-size="6.5" font-weight="normal">%</tspan></text>
<text x="147.4" y="919.1" font-size="10.5" font-weight="bold" fill="#F55A72" textLength="22.8" lengthAdjust="spacingAndGlyphs">2.5<tspan font-size="6.5" font-weight="normal">%</tspan></text>
<text x="533.8" y="983.8" font-size="9.5" font-weight="bold" fill="#0A6A9A" textLength="24.8" lengthAdjust="spacingAndGlyphs">27.2<tspan font-size="5.9" font-weight="normal">%</tspan></text>
<text x="521.5" y="1132.3" font-size="9.5" font-weight="bold" fill="#16A9D6" textLength="26.3" lengthAdjust="spacingAndGlyphs">25.8<tspan font-size="5.9" font-weight="normal">%</tspan></text>
<text x="391.7" y="1153.1" font-size="9.5" font-weight="bold" fill="#61A0A2" textLength="24.3" lengthAdjust="spacingAndGlyphs">19.8<tspan font-size="5.9" font-weight="normal">%</tspan></text>
<text x="343.4" y="1051.2" font-size="9.5" font-weight="bold" fill="#5BC8E5" textLength="19.6" lengthAdjust="spacingAndGlyphs">7.7<tspan font-size="5.9" font-weight="normal">%</tspan></text>
<text x="353.0" y="1001.4" font-size="9.5" font-weight="bold" fill="#F45A3C" textLength="20.6" lengthAdjust="spacingAndGlyphs">7.0<tspan font-size="5.9" font-weight="normal">%</tspan></text>
<text x="382.0" y="969.2" font-size="9.5" font-weight="bold" fill="#F9826E" textLength="20.0" lengthAdjust="spacingAndGlyphs">5.7<tspan font-size="5.9" font-weight="normal">%</tspan></text>
<text x="418.0" y="951.6" font-size="9.5" font-weight="bold" fill="#FB9637" textLength="18.5" lengthAdjust="spacingAndGlyphs">5.1<tspan font-size="5.9" font-weight="normal">%</tspan></text>
<text x="446.5" y="944.3" font-size="9.5" font-weight="bold" fill="#F55A72" textLength="16.5" lengthAdjust="spacingAndGlyphs">1.7<tspan font-size="5.9" font-weight="normal">%</tspan></text>
<text x="815.6" y="1002.3" font-size="9" font-weight="bold" fill="#16A9D6" textLength="24.6" lengthAdjust="spacingAndGlyphs">34.5<tspan font-size="5.6" font-weight="normal">%</tspan></text>
<text x="750.3" y="1141.1" font-size="9" font-weight="bold" fill="#61A0A2" textLength="22.6" lengthAdjust="spacingAndGlyphs">25.2<tspan font-size="5.6" font-weight="normal">%</tspan></text>
<text x="638.2" y="1092.8" font-size="9" font-weight="bold" fill="#0A6A9A" textLength="21.3" lengthAdjust="spacingAndGlyphs">17.8<tspan font-size="5.6" font-weight="normal">%</tspan></text>
<text x="638.2" y="1003.4" font-size="9" font-weight="bold" fill="#5BC8E5" textLength="19.3" lengthAdjust="spacingAndGlyphs">10.1<tspan font-size="5.6" font-weight="normal">%</tspan></text>
<text x="675.0" y="969.2" font-size="9" font-weight="bold" fill="#F9826E" textLength="18.2" lengthAdjust="spacingAndGlyphs">8.3<tspan font-size="5.6" font-weight="normal">%</tspan></text>
<text x="711.4" y="953.7" font-size="9" font-weight="bold" fill="#FB9637" textLength="17.8" lengthAdjust="spacingAndGlyphs">3.8<tspan font-size="5.6" font-weight="normal">%</tspan></text>
<text x="733.6" y="952.5" font-size="9" font-weight="bold" fill="#F45A3C" textLength="18.2" lengthAdjust="spacingAndGlyphs">0.3<tspan font-size="5.6" font-weight="normal">%</tspan></text>
<rect x="15.8" y="1180.7" width="857.2" height="39.3" rx="19.6" fill="#FDFBF9"/>
<rect x="33" y="1192.3" width="16" height="16.4" rx="3.5" fill="#8DD3EC"/>
<text x="52.9" y="1206.8" font-size="13" fill="#555555" textLength="87.1" lengthAdjust="spacingAndGlyphs">North America</text>
<rect x="156.3" y="1192.3" width="16" height="16.4" rx="3.5" fill="#6F9E9E"/>
<text x="175.5" y="1206.8" font-size="13" fill="#555555" textLength="42.9" lengthAdjust="spacingAndGlyphs">EU27+3</text>
<rect x="234.7" y="1192.3" width="16" height="16.4" rx="3.5" fill="#5AA7D2"/>
<text x="253.2" y="1206.8" font-size="13" fill="#555555" textLength="36.2" lengthAdjust="spacingAndGlyphs">China</text>
<rect x="304" y="1192.3" width="16" height="16.4" rx="3.5" fill="#E05A40"/>
<text x="322.5" y="1206.8" font-size="13" fill="#555555" textLength="110.5" lengthAdjust="spacingAndGlyphs">Middle East, Africa</text>
<rect x="450" y="1192.3" width="16" height="16.4" rx="3.5" fill="#FB9A40"/>
<text x="469.0" y="1206.8" font-size="13" fill="#555555" textLength="38.5" lengthAdjust="spacingAndGlyphs">Japan</text>
<rect x="521.5" y="1192.3" width="16" height="16.4" rx="3.5" fill="#E58A78"/>
<text x="541.5" y="1206.8" font-size="13" fill="#555555" textLength="150.0" lengthAdjust="spacingAndGlyphs">Central &amp; South America</text>
<rect x="705" y="1192.3" width="16" height="16.4" rx="3.5" fill="#E0607A"/>
<text x="723.0" y="1206.8" font-size="13" fill="#555555" textLength="21.0" lengthAdjust="spacingAndGlyphs">CIS</text>
<rect x="759" y="1192.3" width="16" height="16.4" rx="3.5" fill="#2F6A9A"/>
<text x="778.0" y="1206.8" font-size="13" fill="#555555" textLength="70.0" lengthAdjust="spacingAndGlyphs">Rest of Asia</text>
<text x="744.5" y="1201.0" font-size="7" fill="#555555">4</text>
<text x="848.5" y="1201.0" font-size="7" fill="#555555">5</text>
<rect x="887" y="0" width="1" height="1271" fill="#000000"/>
</svg></body></html>
